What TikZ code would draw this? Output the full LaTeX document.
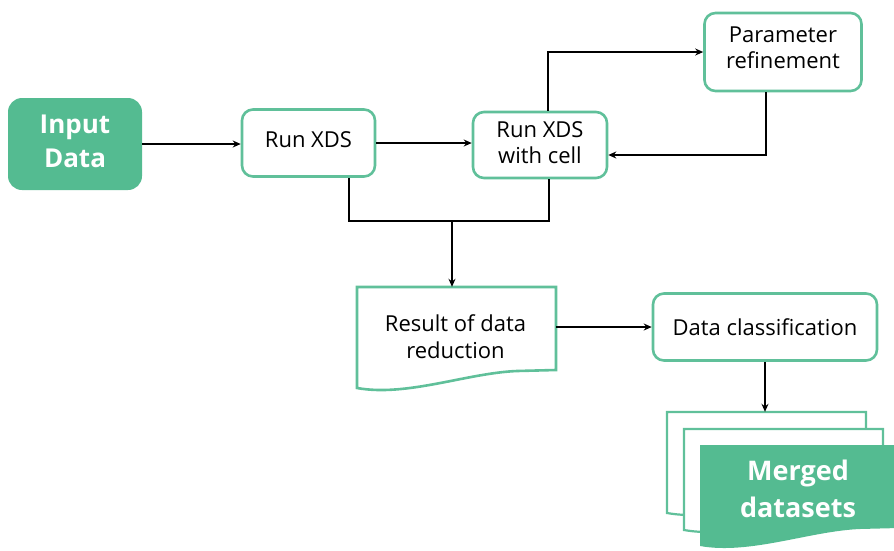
\documentclass[tikz,border=0pt]{standalone}
\usepackage{fontspec}
\setmainfont{Open Sans}
\usetikzlibrary{arrows.meta}
\definecolor{mint}{RGB}{84,187,145}
\definecolor{mintline}{RGB}{96,192,154}
\begin{document}
\begin{tikzpicture}[x=1pt,y=-1pt,
  stepbox/.style={draw=mintline,line width=2.6pt,rounded corners=11pt,fill=white,
    align=center,inner sep=0pt,font=\fontsize{22}{26}\selectfont},
  raised/.style={text depth=#1},
  startbox/.style={fill=mint,rounded corners=14pt,align=center,inner sep=0pt,
    text=white,font=\fontsize{26}{34}\bfseries\selectfont},
  area/.style={inner sep=0pt,minimum width=199pt,minimum height=83pt},
  label text/.style={align=center,inner sep=0pt,font=\fontsize{22}{27}\selectfont},
  wire/.style={line width=1.8pt,black},
  arr/.style={wire,-{Stealth[length=8pt,width=7pt]}},
  docsheet/.pic={
    \path[pic actions] (0,0) -- (199,0) -- (199,83) -- (160,84)
      .. controls (110,86) and (50,110) .. (0,101) -- cycle;
  }]
\useasboundingbox (0,0) rectangle (894,550);
\clip (0,0) rectangle (894,550);

% process boxes
\node[startbox,raised=6pt,minimum width=134pt,minimum height=92pt] (inp) at (75,144) {Input\\Data};
\node[stepbox,raised=6pt,minimum width=133pt,minimum height=67pt] (rx) at (308.5,143) {Run XDS};
\node[stepbox,raised=4pt,minimum width=134pt,minimum height=66pt] (rc) at (540,145) {Run XDS\\with cell};
\node[stepbox,raised=8pt,minimum width=157pt,minimum height=78pt] (pr) at (783,52) {Parameter\\refinement};
\node[stepbox,minimum width=224pt,minimum height=67pt] (dc) at (765,327) {Data classification};

% result document
\pic[draw=mintline,fill=white,line width=2.6pt] at (357,287) {docsheet};
\node[area] (res) at (456.5,328.5) {};
\node[label text] (restext) at (455.5,337) {Result of data\\reduction};

% stack of merged datasets
\pic[draw=mintline,fill=white,line width=2.2pt] at (667,412) {docsheet};
\pic[draw=mintline,fill=white,line width=2.2pt] at (684,429) {docsheet};
\pic[fill=mint] at (700,445) {docsheet};
\node[area] (mb) at (766.5,453.5) {};
\node[startbox,font=\fontsize{27}{37}\bfseries\selectfont] (mtext) at (798,489) {Merged\\datasets};

% connectors
\draw[arr] (inp.east) -- (inp.east -| rx.west);
\draw[arr] (rx.east) -- (rx.east -| rc.west);
\draw[arr] ([xshift=8pt]rc.north) |- (pr.west);
\draw[arr] ([xshift=-17pt]pr.south) |- ([yshift=-10pt]rc.east);
\coordinate (join) at (452,221);
\draw[wire] ([xshift=40.5pt]rx.south) |- (join) -| ([xshift=9pt]rc.south);
\draw[arr] (join) -- (join |- res.north);
\draw[arr] (res.east |- dc.west) -- (dc.west);
\draw[arr] (dc.south) -- (dc.south |- mb.north);
\end{tikzpicture}
\end{document}
